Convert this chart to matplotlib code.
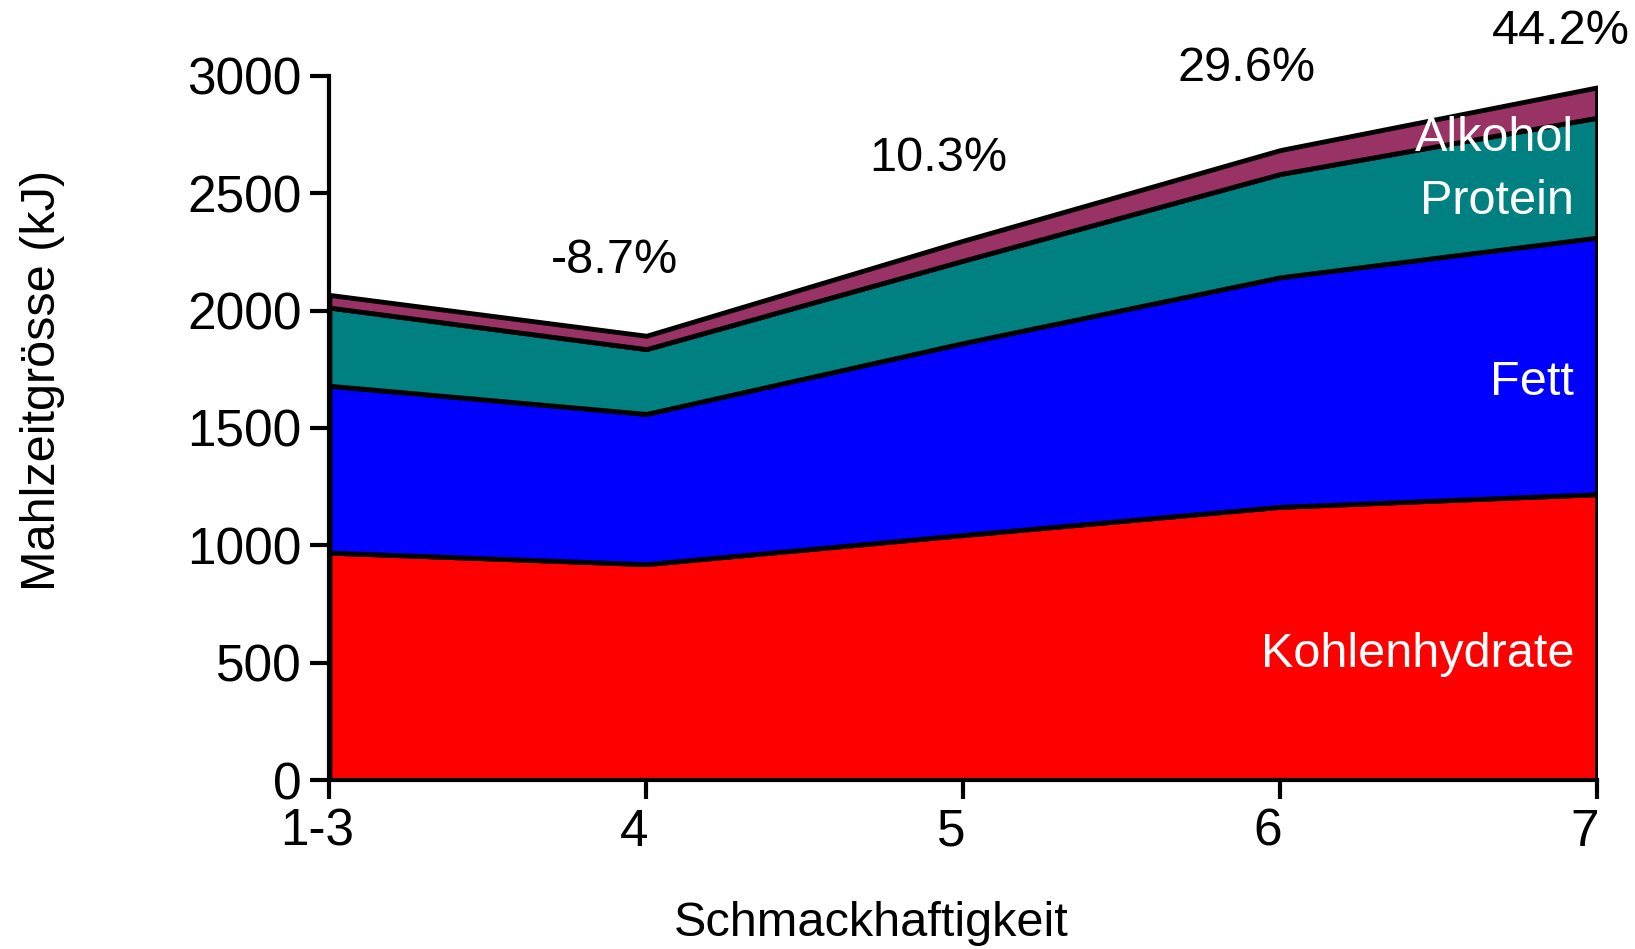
import numpy as np
import matplotlib.pyplot as plt
import matplotlib.transforms as mtransforms

plt.rcParams['font.family'] = ['Liberation Sans', 'DejaVu Sans']

# Schmackhaftigkeit categories
stufen = ["1-3", "4", "5", "6", "7"]

# energy per component (kJ)
kohlenhydrate = [969, 920, 1044, 1164, 1218]
fett = [711, 640, 818, 978, 1093]
protein = [333, 276, 351, 440, 511]
alkohol = [54, 57, 85, 102, 129]

# change of total vs. 1-3
prozent = ["-8.7%", "10.3%", "29.6%", "44.2%"]

x = np.arange(len(stufen))
fs = 37   # tick labels
fs2 = 35  # other texts

fig = plt.figure(figsize=(16.35, 9.49), dpi=100)
ax = fig.add_axes([0.2015, 0.178, 0.7753, 0.742])

ax.stackplot(x, kohlenhydrate, fett, protein, alkohol,
             colors=['#ff0000', '#0000ff', '#008080', '#993366'],
             edgecolor='black', linewidth=3.5)

ax.set_xlim(0, 4)
ax.set_ylim(0, 3000)
ax.set_xticks(x)
ax.set_xticklabels(stufen)
ax.set_yticks(range(0, 3001, 500))

for s in ['top', 'right']:
    ax.spines[s].set_visible(False)
for s in ['left', 'bottom']:
    ax.spines[s].set_linewidth(3)
ax.tick_params(direction='out', length=14, width=3, labelsize=fs, pad=6)

# x tick labels sit a little left of the ticks in the original
shift = mtransforms.ScaledTranslation(-12 / 100, 0, fig.dpi_scale_trans)
for lbl in ax.get_xticklabels():
    lbl.set_transform(lbl.get_transform() + shift)

# axis titles placed like in the original
fig.text(0.026, 0.599, 'Mahlzeitgrösse (kJ)', fontsize=fs2, rotation=90,
         ha='center', va='center')
fig.text(0.533, 0.027, 'Schmackhaftigkeit', fontsize=fs2, ha='center', va='center')

# percent labels above each point
lab_x = [0.90, 1.92, 2.895, 3.885]
lab_y = [2213, 2649, 3031, 3191]
for px, py, t in zip(lab_x, lab_y, prozent):
    ax.text(px, py, t, fontsize=fs2, ha='center', va='center', clip_on=False)

# series names inside areas
ax.text(3.928, 2733, 'Alkohol', color='white', fontsize=fs2, ha='right', va='center')
ax.text(3.928, 2467, 'Protein', color='white', fontsize=fs2, ha='right', va='center')
ax.text(3.928, 1693, 'Fett', color='white', fontsize=fs2, ha='right', va='center')
ax.text(3.928, 533, 'Kohlenhydrate', color='white', fontsize=fs2, ha='right', va='center')

fig.savefig('out.png', dpi=100)
